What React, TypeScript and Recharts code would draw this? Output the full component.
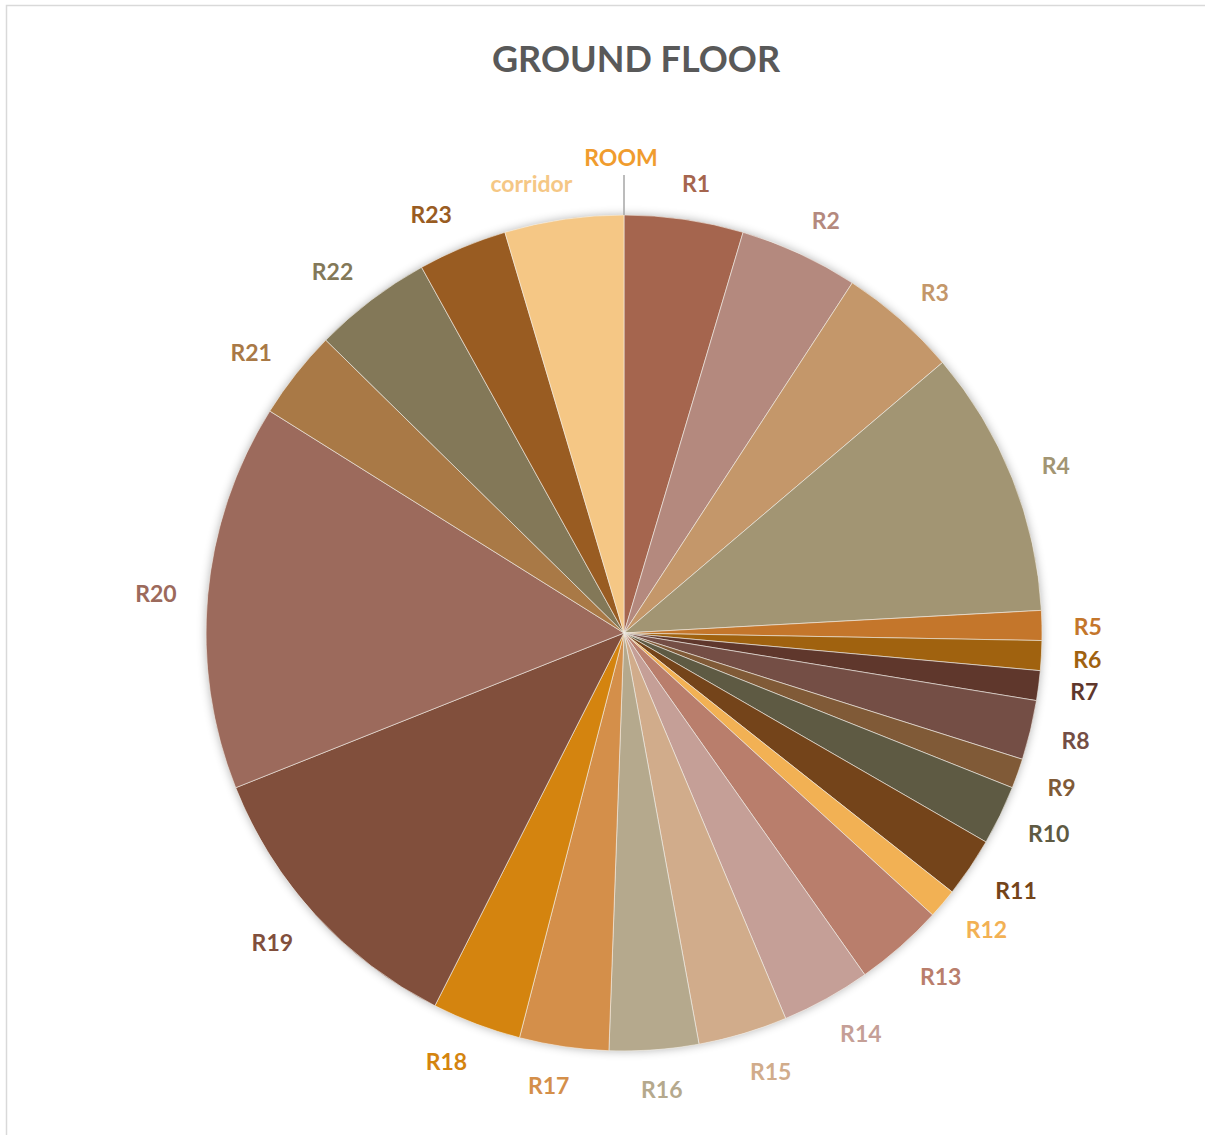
import React from 'react';
import { PieChart, Pie, Cell } from 'recharts';

const names = ['ROOM', 'R1', 'R2', 'R3', 'R4', 'R5', 'R6', 'R7', 'R8', 'R9', 'R10', 'R11', 'R12', 'R13', 'R14', 'R15', 'R16', 'R17', 'R18', 'R19', 'R20', 'R21', 'R22', 'R23', 'corridor'];
const values = [0, 4, 4, 4, 9, 1, 1, 1, 2, 1, 2, 2, 1, 3, 3, 3, 3, 3, 3, 10, 13, 3, 4, 3, 4];
const colors = ['#F09C2E', '#A5654E', '#B4897E', '#C4976A', '#A29573', '#C4762B', '#A0620F', '#5F372C', '#744E45', '#805A37', '#5E5A43', '#74441A', '#F2B154', '#B97E6C', '#C59F97', '#D1AC8B', '#B5A98D', '#D48F4A', '#D4840F', '#814F3C', '#9C6A5C', '#A97946', '#837858', '#995C22', '#F5C785'];

const data = names.map((n, i) => ({ name: n, value: values[i] }));

const CX = 624;
const CY = 633;
const R = 418;
const FS = 23;
const FONT = "Lato, 'Open Sans', sans-serif";

const clamp = (v: number) => Math.max(-1, Math.min(1, v));

const renderLabel = (props: any) => {
  const { index, midAngle } = props;
  const name = names[index];
  const color = colors[index];
  if (values[index] === 0) {
    return (
      <g key={`lbl-${index}`}>
        <line x1={CX} y1={CY - R} x2={CX} y2={CY - R - 40} stroke="#A6A6A6" strokeWidth={1.5} />
        <text x={CX - 3} y={CY - R - 49} textAnchor="middle" fill={color} fontSize={FS} fontWeight={700} fontFamily={FONT}>{name}</text>
      </g>
    );
  }
  const theta = ((90 - midAngle) * Math.PI) / 180;
  const s = Math.sin(theta);
  const c = Math.cos(theta);
  const hw = name.length * FS * 0.26;
  const hh = 4;
  const d = R + 34;
  const x = CX + d * s + hw * clamp(4 * s);
  const y = CY - d * c - hh * c;
  return (
    <text key={`lbl-${index}`} x={x} y={y + 10} textAnchor="middle" fill={color} fontSize={FS} fontWeight={700} fontFamily={FONT}>{name}</text>
  );
};

export default function App() {
  return (
    <div style={{ position: 'absolute', left: 0, top: 0, width: 1205, height: 1135, background: '#fff' }}>
      <div style={{ position: 'absolute', left: CX - R, top: CY - R, width: 2 * R, height: 2 * R, borderRadius: '50%', boxShadow: '0 0 10px rgba(0,0,0,0.3)' }} />
      <div style={{ position: 'absolute', left: 0, top: 0 }}>
        <PieChart width={1205} height={1135} margin={{ top: 0, right: 0, bottom: 0, left: 0 }}>
          <rect x={6.5} y={5.5} width={1240} height={1160} fill="none" stroke="#D9D9D9" strokeWidth={1.5} />
          <text x={636} y={72} textAnchor="middle" fill="#595959" fontSize={36} fontWeight={700} fontFamily={FONT}>GROUND FLOOR</text>
          <Pie
            data={data}
            dataKey="value"
            nameKey="name"
            cx={CX}
            cy={CY}
            outerRadius={R}
            innerRadius={0}
            startAngle={90}
            endAngle={-270}
            isAnimationActive={false}
            stroke="#F2EEE8"
            strokeWidth={0.6}
            labelLine={false}
            label={renderLabel}
          >
            {data.map((d, i) => (
              <Cell key={d.name} fill={colors[i]} />
            ))}
          </Pie>
        </PieChart>
      </div>
    </div>
  );
}
